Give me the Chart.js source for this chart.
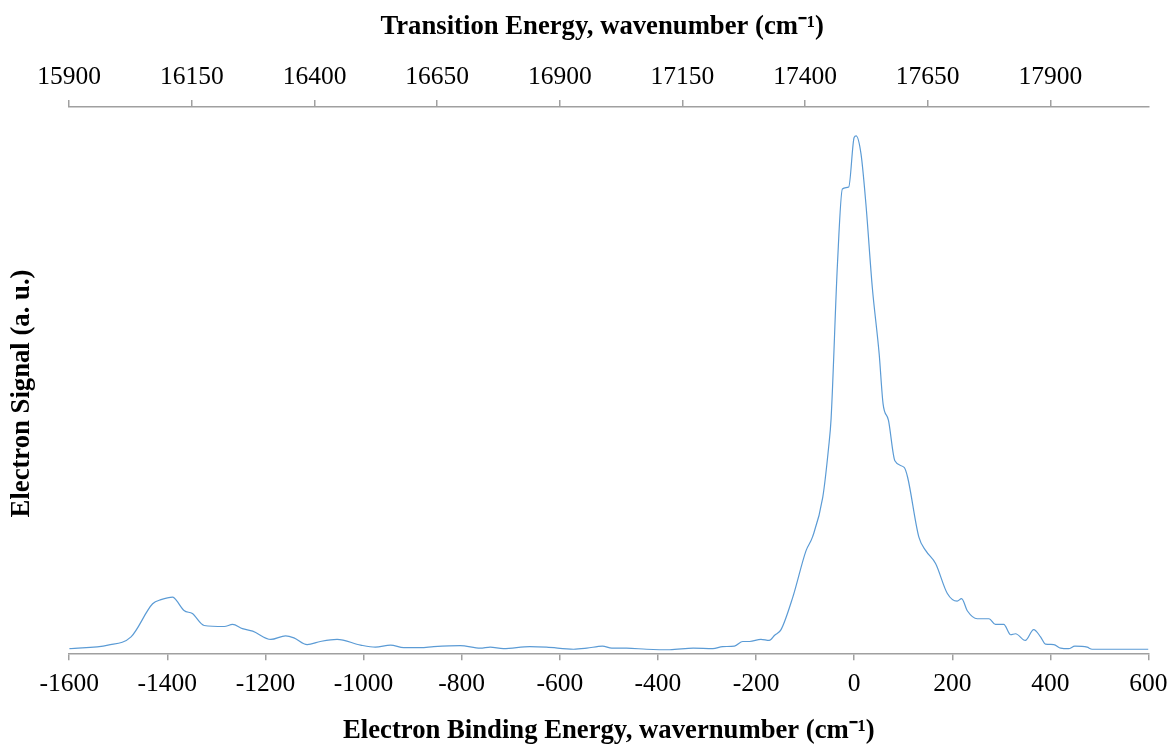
<!DOCTYPE html>
<html lang="en">
<head>
    <meta charset="UTF-8">
    <title>Electron Signal</title>
    <script src="https://cdn.jsdelivr.net/npm/chart.js"></script>
    <style>
        html, body { margin: 0; padding: 0; background: #fff; }
        #wrap { width: 1176px; height: 747px; }
    </style>
</head>
<body>
    <div id="wrap"><canvas id="specChart" width="1176" height="747"></canvas></div>

    <script>
        // Spectrum (binding energy in cm-1, signal in a.u.)
        const bindingEnergy = [
            -1600, -1521, -1474, -1430, -1413, -1389, -1382, -1366, -1349, -1325,
            -1284, -1267, -1247, -1226, -1189, -1159, -1142, -1115, -1088, -1054,
            -1006, -976, -945, -918, -884, -857, -803, -762, -742, -715,
            -661, -627, -572, -545, -513, -494, -464, -423, -376, -328,
            -288, -268, -244, -227, -213, -190, -173, -162, -149, -125,
            -98, -85, -64, -52, -47, -34, -24, -11, 0, 4,
            14, 24, 37, 51, 59, 70, 83, 102, 109, 132,
            146, 166, 190, 210, 219, 231, 251, 275, 288, 305,
            319, 329, 349, 366, 380, 390, 407, 421, 437, 450,
            475, 485, 600
        ];
        const signal = [
            0.007, 0.014, 0.030, 0.094, 0.102, 0.107, 0.101, 0.081, 0.075, 0.052,
            0.050, 0.054, 0.046, 0.041, 0.025, 0.032, 0.028, 0.015, 0.021, 0.025,
            0.014, 0.010, 0.014, 0.009, 0.009, 0.011, 0.013, 0.008, 0.010, 0.007,
            0.011, 0.010, 0.006, 0.008, 0.012, 0.008, 0.008, 0.006, 0.005, 0.008,
            0.007, 0.011, 0.012, 0.021, 0.021, 0.025, 0.023, 0.033, 0.044, 0.107,
            0.197, 0.223, 0.300, 0.397, 0.452, 0.752, 0.897, 0.901, 0.997, 1.000,
            0.965, 0.868, 0.707, 0.578, 0.481, 0.449, 0.371, 0.358, 0.339, 0.223,
            0.197, 0.172, 0.114, 0.099, 0.104, 0.080, 0.065, 0.065, 0.054, 0.054,
            0.034, 0.036, 0.023, 0.044, 0.030, 0.016, 0.015, 0.008, 0.007, 0.012,
            0.010, 0.006, 0.006
        ];

        // Axis tick labels
        const bottomTicks = [-1600, -1400, -1200, -1000, -800, -600, -400, -200, 0, 200, 400, 600];
        const topTicks = [15900, 16150, 16400, 16650, 16900, 17150, 17400, 17650, 17900];

        const serif = "'Liberation Serif', 'Times New Roman', serif";
        const axisGrey = '#a0a0a0';
        const tickFont = { family: serif, size: 25.5 };
        const titleFont = { family: serif, size: 26.7, weight: 'bold' };

        const ctx = document.getElementById('specChart').getContext('2d');
        new Chart(ctx, {
            type: 'line',
            data: {
                datasets: [{
                    data: bindingEnergy.map((x, i) => ({ x: x, y: signal[i] })),
                    borderColor: '#5b9bd5',
                    borderWidth: 1.2,
                    pointRadius: 0,
                    fill: false,
                    cubicInterpolationMode: 'monotone',
                    xAxisID: 'x',
                    yAxisID: 'y'
                }]
            },
            options: {
                responsive: false,
                animation: false,
                layout: { padding: { left: 0, right: 26, top: 0, bottom: 0 } },
                plugins: {
                    legend: { display: false },
                    tooltip: { enabled: false }
                },
                scales: {
                    x: {
                        type: 'linear',
                        position: 'bottom',
                        min: -1600,
                        max: 600,
                        afterBuildTicks: axis => { axis.ticks = bottomTicks.map(v => ({ value: v })); },
                        ticks: {
                            color: '#000',
                            font: tickFont,
                            padding: 8.4,
                            maxRotation: 0,
                            callback: v => String(v)
                        },
                        grid: { drawOnChartArea: false, drawTicks: true, tickLength: 7, color: axisGrey, lineWidth: 1.5 },
                        border: { color: axisGrey, width: 1.5 },
                        title: {
                            display: true,
                            text: 'Electron Binding Energy, wavernumber (cm\u207B\u00B9)',
                            color: '#000',
                            font: titleFont,
                            padding: { top: 7.2, bottom: 0 }
                        }
                    },
                    x2: {
                        type: 'linear',
                        position: 'top',
                        min: 15900,
                        max: 18100,
                        afterBuildTicks: axis => { axis.ticks = topTicks.map(v => ({ value: v })); },
                        ticks: {
                            color: '#000',
                            font: tickFont,
                            padding: 7.7,
                            maxRotation: 0,
                            callback: v => String(v)
                        },
                        grid: { drawOnChartArea: false, drawTicks: true, tickLength: 7, color: axisGrey, lineWidth: 1.5 },
                        border: { color: axisGrey, width: 1.5 },
                        title: {
                            display: true,
                            // two trailing spaces pull the centred title slightly left, like the original
                            text: 'Transition Energy, wavenumber (cm\u207B\u00B9)\u00A0\u00A0',
                            color: '#000',
                            font: titleFont,
                            padding: { top: 11.1, bottom: 10.8 }
                        }
                    },
                    y: {
                        type: 'linear',
                        position: 'left',
                        min: -0.002,
                        max: 1.056,
                        ticks: { display: false },
                        grid: { display: false, drawTicks: false },
                        border: { display: false },
                        title: {
                            display: true,
                            // trailing spaces nudge the rotated label a little lower, as in the original
                            text: 'Electron Signal (a. u.)\u00A0\u00A0\u00A0\u00A0',
                            color: '#000',
                            font: titleFont,
                            padding: { top: 6.1, bottom: 31.1 }
                        }
                    }
                }
            }
        });
    </script>
</body>
</html>
